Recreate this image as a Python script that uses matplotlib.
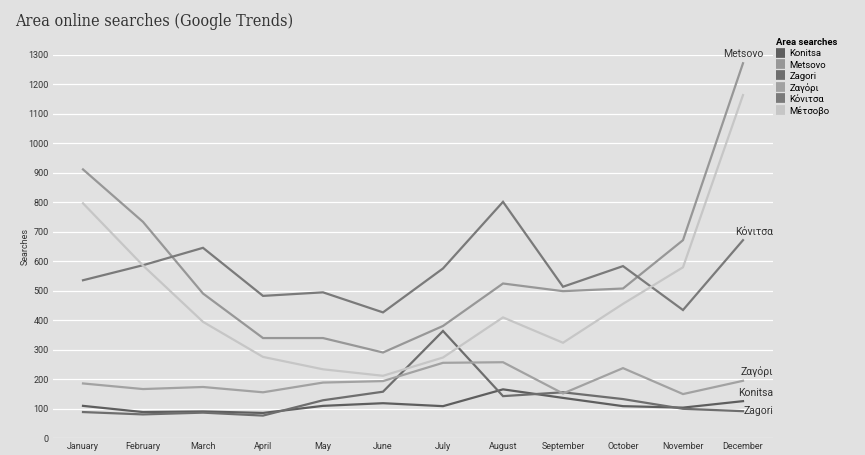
import matplotlib
matplotlib.use('agg')
import matplotlib.pyplot as plt
import numpy as np

# monthly search counts per area term
months = ['January', 'February', 'March', 'April', 'May', 'June',
          'July', 'August', 'September', 'October', 'November', 'December']
konitsa = [109, 88, 90, 85, 109, 118, 108, 165, 136, 108, 103, 125]
metsovo = [911, 733, 490, 339, 339, 290, 380, 524, 498, 507, 671, 1271]
zagori = [88, 80, 86, 76, 128, 157, 363, 142, 155, 132, 99, 91]
zagori_gr = [185, 166, 173, 155, 188, 193, 255, 257, 151, 237, 149, 194]
konitsa_gr = [535, 586, 645, 482, 494, 426, 575, 801, 513, 583, 434, 671]
metsovo_gr = [796, 585, 394, 275, 233, 211, 273, 409, 323, 455, 579, 1163]

series = [
    ('Konitsa', konitsa, '#5e5e5e'),
    ('Metsovo', metsovo, '#979797'),
    ('Zagori', zagori, '#6e6e6e'),
    ('Ζαγόρι', zagori_gr, '#a2a2a2'),
    ('Κόνιτσα', konitsa_gr, '#7a7a7a'),
    ('Μέτσοβο', metsovo_gr, '#c6c6c6'),
]

bg = '#e1e1e1'
plt.rcParams['font.family'] = ['Roboto', 'DejaVu Sans']

fig = plt.figure(figsize=(8.65, 4.55), dpi=100, facecolor=bg)
ax = fig.add_axes([53 / 865, 1 - 438 / 455, 720 / 865, (438 - 54.7) / 455])
ax.set_facecolor(bg)

x = np.arange(len(months))
for name, vals, col in series:
    ax.plot(x, vals, color=col, lw=1.6, label=name, solid_joinstyle='miter')

ax.set_xlim(-0.5, 11.5)
ax.set_ylim(0, 1300)
ax.set_yticks(np.arange(0, 1301, 100))
ax.set_xticks(x)
ax.set_xticklabels(months)
ax.tick_params(axis='both', length=0, labelsize=6.5, labelcolor='#333333')
ax.tick_params(axis='x', pad=3)
ax.tick_params(axis='y', pad=3)
ax.grid(axis='y', color='white', lw=0.9)
ax.set_axisbelow(True)
for s in ax.spines.values():
    s.set_visible(False)
ax.set_ylabel('Searches', fontsize=6.5, color='#333333', labelpad=-1)

# end-of-line labels
lbl = dict(fontsize=7.5, color='#333333', va='center')
ax.text(11, metsovo[-1] + 30, 'Metsovo', ha='center', **lbl)
ax.text(11.5, konitsa_gr[-1] + 27, 'Κόνιτσα', ha='right', **lbl)
ax.text(11.5, zagori_gr[-1] + 30, 'Ζαγόρι', ha='right', **lbl)
ax.text(11.5, konitsa[-1] + 28, 'Konitsa', ha='right', **lbl)
ax.text(11.5, zagori[-1], 'Zagori', ha='right', **lbl)

fig.text(15 / 865, 1 - 22 / 455, 'Area online searches (Google Trends)',
         fontsize=11.6, family=['DejaVu Serif Condensed', 'DejaVu Serif'],
         stretch='condensed', color='#333333', va='center')

leg = ax.legend(loc='upper left', bbox_to_anchor=(776 / 865, 1 - 38 / 455),
                bbox_transform=fig.transFigure, frameon=False,
                title='Area searches', fontsize=6.8, title_fontsize=6.8,
                handlelength=1.0, handleheight=1.0, handletextpad=0.4,
                labelspacing=0.2, borderaxespad=0, borderpad=0)
leg.get_title().set_fontweight('bold')
leg._legend_box.align = 'left'
for h in leg.legend_handles:
    h.set_linewidth(7)
    h.set_solid_capstyle('butt')

fig.savefig('out.png', dpi=100, facecolor=bg)
